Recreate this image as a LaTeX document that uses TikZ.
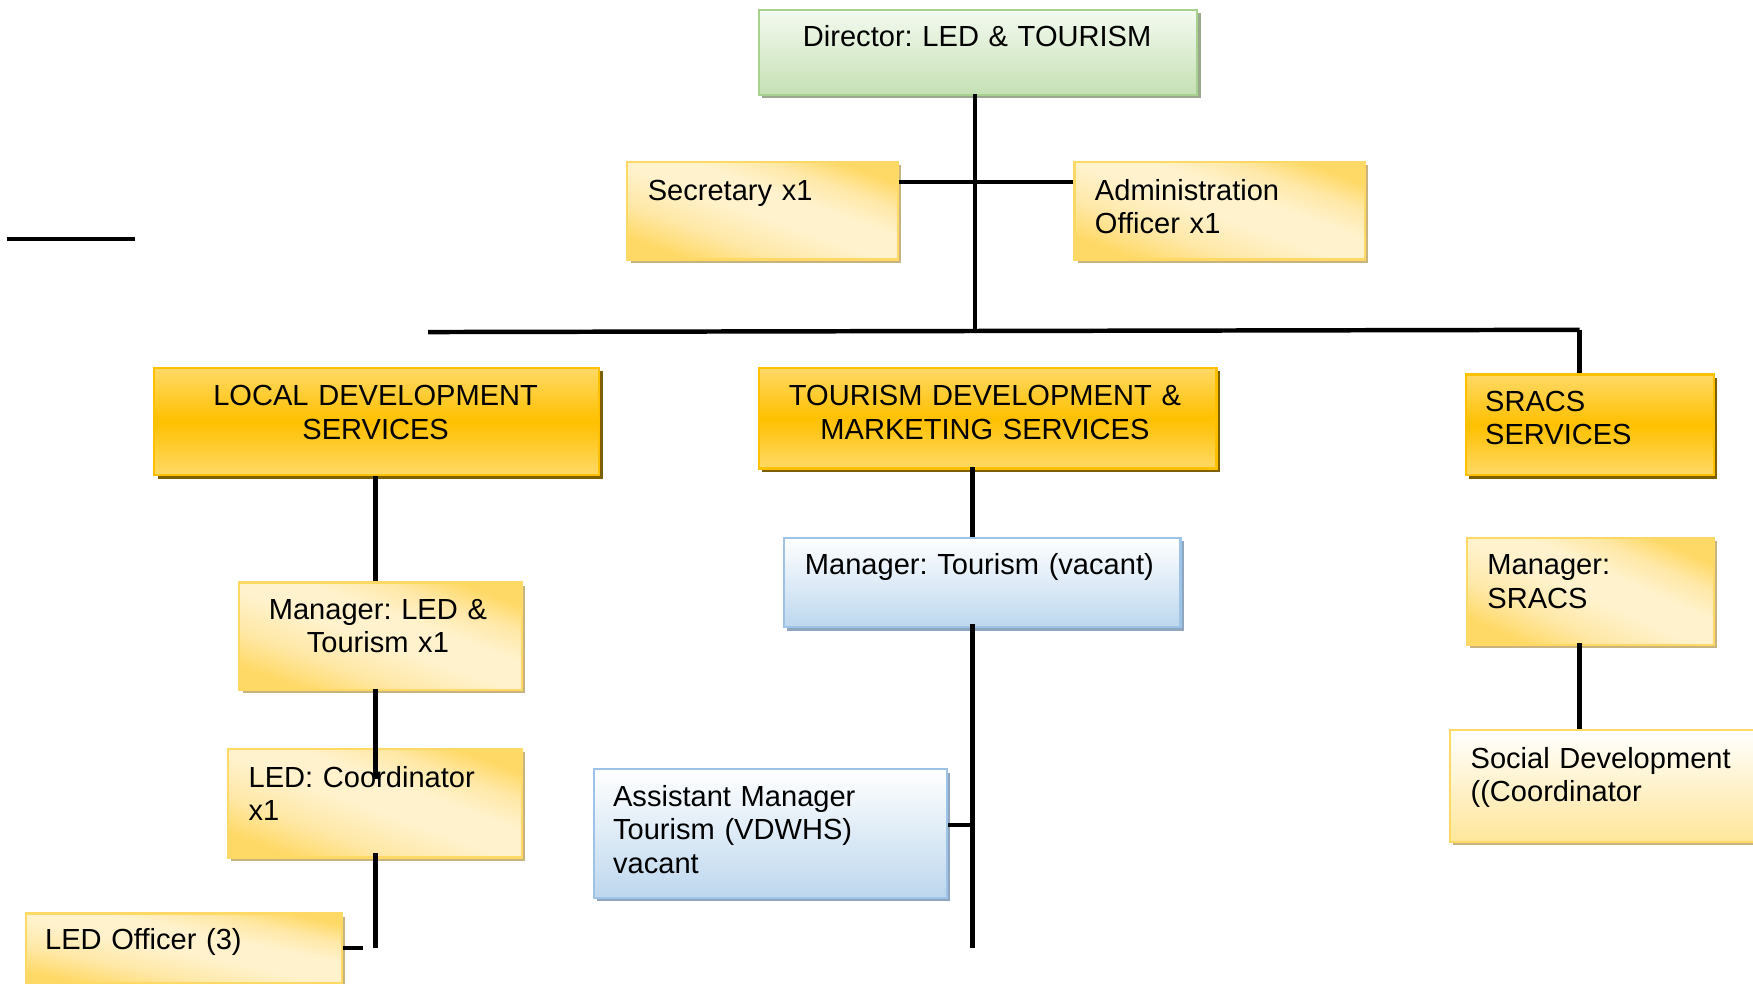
\documentclass[tikz,border=0pt]{standalone}
\usepackage{fontspec}
\setmainfont{Liberation Sans}
\usetikzlibrary{shadows}
\frenchspacing
\definecolor{grntop}{HTML}{F4FAF0}
\definecolor{grnbot}{HTML}{C5E0B4}
\definecolor{grnbord}{HTML}{A9D18E}
\definecolor{shgreen}{HTML}{9AA88E}
\definecolor{gold}{HTML}{FFC000}
\definecolor{goldlight}{HTML}{FFD966}
\definecolor{shbrown}{HTML}{7F6000}
\definecolor{ycorner}{HTML}{FFD966}
\definecolor{ymid}{HTML}{FFE8A6}
\definecolor{ycenter}{HTML}{FFF2CC}
\definecolor{ybord}{HTML}{FFD966}
\definecolor{shtan}{HTML}{C6B37E}
\definecolor{bluebot}{HTML}{BDD7EE}
\definecolor{bluebord}{HTML}{9DC3E6}
\definecolor{shblue}{HTML}{8FA6BE}
\definecolor{ysocbot}{HTML}{FFE699}
\pgfdeclareverticalshading{ydiag}{100bp}{color(0bp)=(ycorner); color(25bp)=(ycorner); color(36bp)=(ymid); color(48bp)=(ycenter); color(58bp)=(ycenter); color(67bp)=(ymid); color(75bp)=(ycorner); color(100bp)=(ycorner)}
\begin{document}
\begin{tikzpicture}[x=0.5pt,y=-0.5pt,
  every node/.style={font=\fontsize{13}{15}\selectfont},
  box/.style={draw, line width=1pt, inner sep=0pt, anchor=north west},
  shd/.style={drop shadow={shadow xshift=1.5pt, shadow yshift=-1.5pt, opacity=1, fill=#1}},
  greenbox/.style={box, shd=shgreen, draw=grnbord, top color=grntop, bottom color=grnbot},
  goldbox/.style={box, shd=shbrown, draw=gold, top color=goldlight, bottom color=goldlight, middle color=gold},
  lightbox/.style={box, shd=shtan, draw=ybord, shade, shading=ydiag, shading angle=#1},
  lightbox/.default=-20,
  bluebox/.style={box, shd=shblue, draw=bluebord, top color=white, bottom color=bluebot},
  socbox/.style={box, shd=shtan, draw=ybord, top color=white, bottom color=ysocbot},
  ltxt/.style={inner sep=0pt, text width=#1, align=left, anchor=base west},
  ctxt/.style={inner sep=0pt, text width=#1, align=center, anchor=base},
  conn/.style={line width=2pt},
  thick conn/.style={line width=2.5pt}]
\clip (0,0) rectangle (1568,880);
\fill[white] (0,0) rectangle (1568,880);

% boxes
\node[greenbox, minimum width=196pt, minimum height=38pt] (dir) at (678,8) {};
\node[lightbox, minimum width=121pt, minimum height=43.5pt] (sec) at (560,144) {};
\node[lightbox, minimum width=130pt, minimum height=43.5pt] (adm) at (960,144) {};
\node[goldbox, minimum width=199pt, minimum height=48pt] (lds) at (137,328) {};
\node[goldbox, minimum width=204.5pt, minimum height=45pt] (tdms) at (678,328) {};
\node[goldbox, minimum width=111pt, minimum height=45pt] (srs) at (1310,334) {};
\node[lightbox, minimum width=126.5pt, minimum height=48pt] (mled) at (213,520) {};
\node[bluebox, minimum width=177.5pt, minimum height=40pt] (mtour) at (700,480) {};
\node[lightbox=-24, minimum width=110.5pt, minimum height=48pt] (msr) at (1311,480) {};
\node[lightbox, minimum width=131.5pt, minimum height=48.5pt] (coord) at (203,669) {};
\node[bluebox, minimum width=158pt, minimum height=57.5pt] (asst) at (530,687) {};
\node[socbox, minimum width=145pt, minimum height=50pt] (soc) at (1296,652) {};
\node[lightbox=-12, minimum width=141.5pt, minimum height=31pt] (ledo) at (22,816) {};

% texts
\node[ctxt=190pt] (dir-t) at (874,42) {Director: LED \& TOURISM};
\node[ltxt=110pt] (sec-t) at (579,179) {Secretary x1};
\node[ltxt=120pt] (adm-t) at (979,179) {Administration\\Officer x1};
\node[ctxt=190pt] (lds-t) at (336,363) {LOCAL DEVELOPMENT\\SERVICES};
\node[ctxt=200pt] (tdms-t) at (881,363) {TOURISM DEVELOPMENT \&\\MARKETING SERVICES};
\node[ltxt=100pt] (srs-t) at (1328,368) {SRACS\\SERVICES};
\node[ctxt=120pt] (mled-t) at (338,554) {Manager: LED \&\\Tourism x1};
\node[ctxt=175pt] (mtour-t) at (876,514) {Manager: Tourism (vacant)};
\node[ltxt=100pt] (msr-t) at (1330,514) {Manager:\\SRACS};
\node[ltxt=120pt] (coord-t) at (222,704) {LED: Coordinator\\x1};
\node[ltxt=140pt] (asst-t) at (548,721) {Assistant Manager\\Tourism (VDWHS)\\vacant};
\node[ltxt=140pt] (soc-t) at (1315,687) {Social Development\\((Coordinator};
\node[ltxt=130pt] (ledo-t) at (40,849) {LED Officer (3)};

% junction coordinates
\coordinate (dtop) at (872,84);
\coordinate (busL) at (383,297);
\coordinate (busM) at (872,296);
\coordinate (busR) at (1413,295);
\coordinate (secrow) at (0,163);
\coordinate (stL) at (6,214);
\coordinate (stR) at (121,214);
\coordinate (mledbot) at (336,616);
\coordinate (cordin) at (336,697);
\coordinate (cordbot) at (336,763);
\coordinate (offj) at (336,848);
\coordinate (offstub) at (325,848);
\coordinate (tdmsbot) at (870,418);
\coordinate (mtourbot) at (870,558);
\coordinate (tourend) at (870,848);
\coordinate (asstj) at (870,738);
\coordinate (msrbot) at (1413,575);

% connectors
\draw[conn] (dtop) -- (busM);
\draw[conn] (sec.north east |- secrow) -- (adm.north west |- secrow);
\draw[conn] (busL) -- (busR);
\draw[conn] (busR) -- (busR |- srs.north);
\draw[conn] (stL) -- (stR);
\draw[conn] (lds.south -| mledbot) -- (mled.north -| mledbot);
\draw[conn] (mledbot) -- (cordin);
\draw[conn] (cordbot) -- (offj);
\draw[conn] (ledo.east |- offstub) -- (offstub);
\draw[conn] (tdmsbot) -- (mtour.north -| tdmsbot);
\draw[thick conn] (mtourbot) -- (tourend);
\draw[conn] (asst.east |- asstj) -- (asstj);
\draw[conn] (msrbot) -- (soc.north -| msrbot);
\end{tikzpicture}
\end{document}
